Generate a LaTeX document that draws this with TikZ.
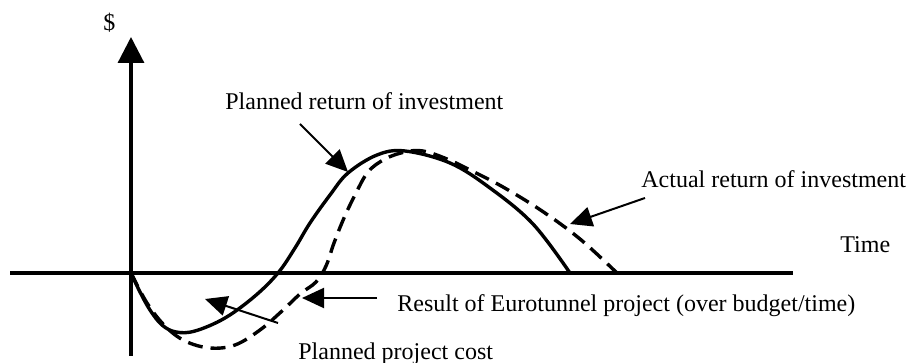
\documentclass[tikz,border=0pt]{standalone}
\usepackage{fontspec}
\setmainfont{Liberation Serif}
\usetikzlibrary{arrows.meta}
\begin{document}
\begin{tikzpicture}[x=0.5pt,y=-0.5pt,
  axis/.style={line width=1.6pt},
  curve/.style={line width=1.7pt, line join=round},
  dashcurve/.style={curve, dash pattern=on 7.5pt off 4pt},
  pointer/.style={line width=1pt, -{Triangle[length=11pt,width=10pt]}},
  lbl/.style={inner sep=0pt, anchor=base west, font=\fontsize{12}{14}\selectfont}]
\useasboundingbox (0,0) rectangle (912,363);
% axes
\coordinate (xl) at (10,273);
\coordinate (xr) at (793,273);
\coordinate (yb) at (131,356);
\coordinate (yt) at (131,37);
\draw[axis] (xl) -- (xr);
\draw[axis, -{Triangle[length=13pt,width=13pt]}] (yb) -- (yt);
% planned curve (solid)
\draw[curve] plot[smooth, tension=0.6] coordinates {
  (131,273) (140,292) (150,310) (162,325) (176,332) (195,331) (225,318)
  (255,296) (278,273) (295,248) (310,223) (330,195) (348,173) (377,155)
  (405,151) (450,163) (490,188) (533,224) (570,273)};
% actual curve (dashed)
\draw[dashcurve] plot[smooth, tension=0.6] coordinates {
  (131,273) (147,303) (165,326) (185,341) (210,348) (235,345) (260,330)
  (282,311) (300,294) (316,282) (326,266) (334,243) (344,218) (355,195)
  (368,172) (385,159) (405,152) (423,151) (447,159) (472,171) (503,187)
  (542,211) (580,239) (617,273)};
% labels
\node[lbl] (dollar) at (103,31) {\$};
\node[lbl] (plret) at (225,110) {Planned return of investment};
\node[lbl] (actret) at (641,188) {Actual return of investment};
\node[lbl] (time) at (840,253) {Time};
\node[lbl] (result) at (397,312) {Result of Eurotunnel project (over budget/time)};
\node[lbl] (plcost) at (298,360) {Planned project cost};
% pointers
\coordinate (p1s) at (300,124);
\coordinate (p1t) at (348,172);
\coordinate (p2s) at (645,198);
\coordinate (p2t) at (570,224);
\coordinate (p3s) at (377,298);
\coordinate (p3t) at (302,298);
\coordinate (p4s) at (278,323);
\coordinate (p4t) at (205,299);
\draw[pointer] (p1s) -- (p1t);
\draw[pointer] (p2s) -- (p2t);
\draw[pointer] (p3s) -- (p3t);
\draw[pointer] (p4s) -- (p4t);
\end{tikzpicture}
\end{document}
